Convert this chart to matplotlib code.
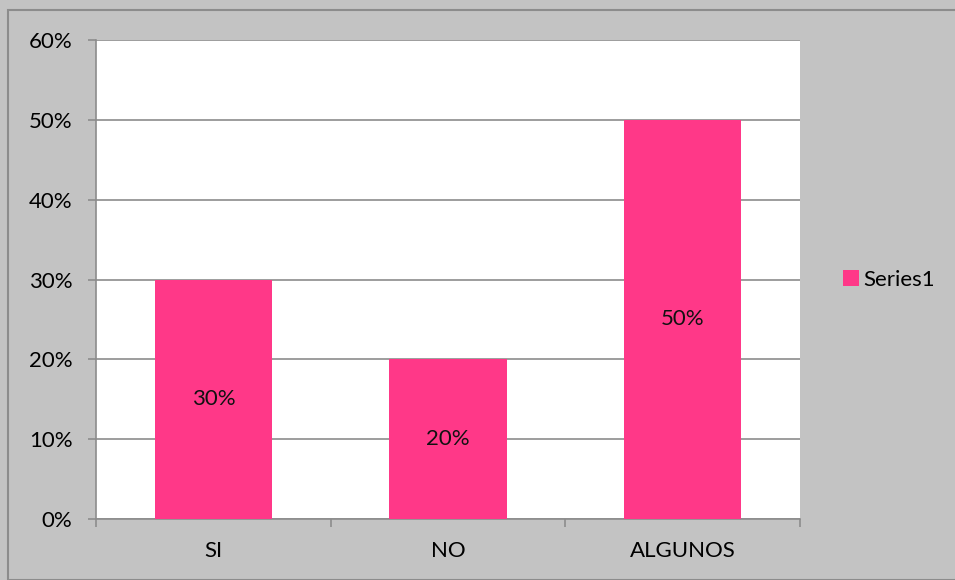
import matplotlib.pyplot as plt
from matplotlib.patches import Rectangle
from matplotlib.ticker import FuncFormatter

categorias = ['SI', 'NO', 'ALGUNOS']
valores = [0.30, 0.20, 0.50]
etiquetas = ['30%', '20%', '50%']
yticks = [0, 0.1, 0.2, 0.3, 0.4, 0.5, 0.6]

plt.rcParams['font.family'] = ['Lato', 'DejaVu Sans']

gris_fondo = '#c3c3c3'
gris_linea = '#8c8c8c'
rosa = '#ff3888'

fig = plt.figure(figsize=(9.55, 5.8), dpi=100, facecolor=gris_fondo)
fig.patches.append(Rectangle((8/955, 0), 1, 1 - 10/580, transform=fig.transFigure,
                             fill=False, edgecolor=gris_linea, linewidth=1.5))

ax = fig.add_axes([96/955, 61/580, 704/955, 479/580])
ax.set_facecolor('white')

x = range(len(categorias))
barras = ax.bar(x, valores, width=0.5, color=rosa, label='Series1', zorder=3)
for b, t in zip(barras, etiquetas):
    ax.text(b.get_x() + b.get_width()/2, b.get_height()/2, t,
            ha='center', va='center', fontsize=16, color='#111111', zorder=4)

ax.set_xlim(-0.5, 2.5)
ax.set_ylim(0, 0.6)
ax.set_yticks(yticks)
ax.yaxis.set_major_formatter(FuncFormatter(lambda v, p: f'{v*100:.0f}%'))
ax.grid(axis='y', color=gris_linea, linewidth=1.2, zorder=0)

ax.set_xticks([-0.5, 0.5, 1.5, 2.5])
ax.set_xticklabels([])
ax.set_xticks(list(x), minor=True)
ax.set_xticklabels(categorias, minor=True)
ax.tick_params(axis='x', which='minor', length=0, pad=16, labelsize=16)
ax.tick_params(axis='x', which='major', length=6, color=gris_linea, width=1.2)
ax.tick_params(axis='y', length=6, color=gris_linea, width=1.2, labelsize=16, pad=11)

for s in ['top', 'right']:
    ax.spines[s].set_visible(False)
ax.spines['left'].set_color(gris_linea)
ax.spines['bottom'].set_color(gris_linea)
ax.spines['left'].set_linewidth(1.2)
ax.spines['bottom'].set_linewidth(1.2)

ax.legend(loc='center left', bbox_to_anchor=(1.033, 0.5), frameon=False,
          fontsize=16, handlelength=0.7, handleheight=0.7, handletextpad=0.2)

fig.savefig('out.png', dpi=100, facecolor=gris_fondo)
